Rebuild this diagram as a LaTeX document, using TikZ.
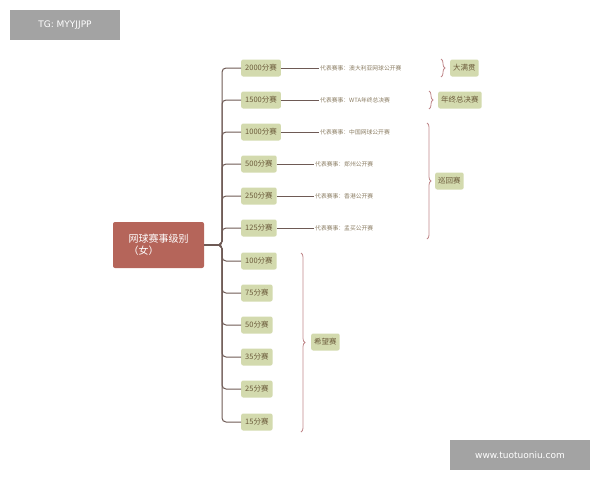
\documentclass[tikz,border=0pt]{standalone}
\usepackage{fontspec}
\newfontfamily\cjk{Noto Sans CJK SC}
\usetikzlibrary{decorations.pathreplacing}
\definecolor{rootc}{HTML}{B5655A}
\definecolor{boxc}{HTML}{D3DAAE}
\definecolor{txtc}{HTML}{6B5A3A}
\definecolor{linec}{HTML}{6E5A55}
\definecolor{bracec}{HTML}{C0878A}
\definecolor{wmc}{HTML}{A3A3A3}
\tikzset{
  lvl/.style={fill=boxc,rounded corners=2pt,text=txtc,font=\cjk\fontsize{7.5}{9}\selectfont,minimum height=17pt,inner xsep=4pt,anchor=west},
  leaf/.style={text=txtc!80,font=\cjk\fontsize{5.8}{7}\selectfont,anchor=west,inner sep=1pt},
  grp/.style={fill=boxc,rounded corners=2pt,text=txtc,font=\cjk\fontsize{7.5}{9}\selectfont,minimum height=17pt,inner xsep=3pt,anchor=west},
  conn/.style={draw=linec,line width=1pt,rounded corners=4pt},
  lconn/.style={draw=linec,line width=0.8pt},
  br/.style={draw=bracec,line width=0.8pt,decorate,decoration={brace,amplitude=4pt}},
  wm/.style={fill=wmc,text=white,font=\fontspec{DejaVu Sans}\fontsize{9}{10}\selectfont,inner sep=0pt}
}
\begin{document}
\begin{tikzpicture}[x=1pt,y=-1pt]
\useasboundingbox (0,0) rectangle (600,480);
\node[wm,minimum width=110pt,minimum height=30pt] (tg) at (65,25) {TG: MYYJJPP};
\node[wm,minimum width=140pt,minimum height=30pt] (web) at (520,455) {www.tuotuoniu.com};
\node[fill=rootc,text=white,rounded corners=2pt,minimum width=91pt,minimum height=46pt,align=left,font=\cjk\fontsize{10}{12}\selectfont] (root) at (158.5,245) {网球赛事级别\\（女）};
\foreach \n/\y/\t in {a/68/2000,b/100/1500,c/132/1000,d/164/500,e/196/250,f/228/125,g/261/100,h/293/75,i/325/50,j/357/35,k/389/25,l/422/15}{
  \node[lvl] (\n) at (241,\y) {\t 分赛};
  \draw[conn] (root.east) -- (222,245) |- (\n.west);
}
\node[leaf] (la) at (319,68) {代表赛事：澳大利亚网球公开赛};
\node[leaf] (lb) at (319,100) {代表赛事：WTA年终总决赛};
\node[leaf] (lc) at (319,132) {代表赛事：中国网球公开赛};
\node[leaf] (ld) at (314,164) {代表赛事：郑州公开赛};
\node[leaf] (le) at (314,196) {代表赛事：香港公开赛};
\node[leaf] (lf) at (314,228) {代表赛事：孟买公开赛};
\foreach \n in {a,b,c,d,e,f}{\draw[lconn] (\n.east) -- (l\n.west);}
\node[grp] (g1) at (450,68) {大满贯};
\node[grp] (g2) at (438,100) {年终总决赛};
\node[grp] (g3) at (435,181) {巡回赛};
\node[grp] (g4) at (311,342) {希望赛};
\draw[br] (441,59) -- (441,77);
\draw[br] (429,91) -- (429,109);
\draw[br] (427,123) -- (427,239);
\draw[br] (301,253) -- (301,432);
\end{tikzpicture}
\end{document}
